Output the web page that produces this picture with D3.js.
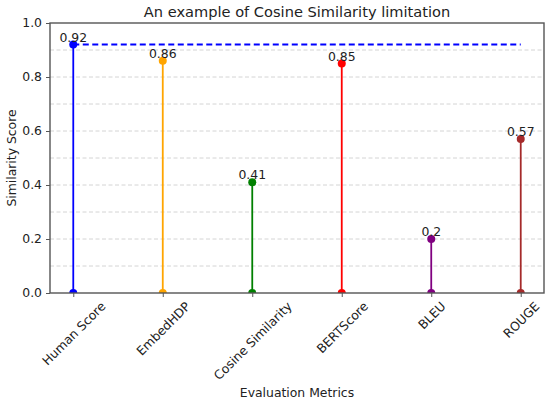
<!DOCTYPE html>
<html>
<head>
<meta charset="utf-8">
<script src="https://cdn.jsdelivr.net/npm/d3@7"></script>
<style>
  body { margin: 0; background: #fff; }
  text { font-family: "DejaVu Sans", sans-serif; fill: #222; }
</style>
</head>
<body>
<script>
const width = 550;
const height = 403;

// Chart data.
const metrics = ['Human Score', 'EmbedHDP', 'Cosine Similarity', 'BERTScore', 'BLEU', 'ROUGE'];
const scores = [0.92, 0.86, 0.41, 0.85, 0.2, 0.57];
const scoreLabels = ['0.92', '0.86', '0.41', '0.85', '0.2', '0.57'];
const colors = ['blue', 'orange', 'green', 'red', 'purple', 'brown'];
const yTicks = [0, 0.2, 0.4, 0.6, 0.8, 1.0];
const gridTicks = [0.1, 0.2, 0.3, 0.4, 0.5, 0.6, 0.7, 0.8, 0.9];
const humanRef = 0.92;

const fontSize = 12.4;
let margin = { top: 23, right: 6, bottom: 110, left: 50 };

let svg = d3
  .select('body')
  .append('svg')
  .attr('width', width)
  .attr('height', height);

let xScale = d3
  .scaleLinear()
  .domain([-0.26, metrics.length - 1 + 0.26])
  .range([margin.left, width - margin.right]);

let yScale = d3
  .scaleLinear()
  .domain([0, 1])
  .range([height - margin.bottom, margin.top]);

svg.append('defs')
  .append('clipPath')
  .attr('id', 'plot')
  .append('rect')
  .attr('x', xScale.range()[0])
  .attr('y', yScale.range()[1])
  .attr('width', xScale.range()[1] - xScale.range()[0])
  .attr('height', yScale.range()[0] - yScale.range()[1]);

// Grid lines.
svg.append('g')
  .selectAll('line')
  .data(gridTicks)
  .join('line')
  .attr('x1', xScale.range()[0])
  .attr('x2', xScale.range()[1])
  .attr('y1', (d) => yScale(d))
  .attr('y2', (d) => yScale(d))
  .attr('stroke', '#d4d4d4')
  .attr('stroke-width', 1)
  .attr('stroke-dasharray', '4,2.5');

let plot = svg.append('g').attr('clip-path', 'url(#plot)');

// Stems.
plot.selectAll('line.stem')
  .data(scores)
  .join('line')
  .attr('class', 'stem')
  .attr('x1', (d, i) => xScale(i))
  .attr('x2', (d, i) => xScale(i))
  .attr('y1', yScale(0))
  .attr('y2', (d) => yScale(d))
  .attr('stroke', (d, i) => colors[i])
  .attr('stroke-width', 1.8);

// Human score reference line.
plot.append('line')
  .attr('x1', xScale(0))
  .attr('x2', xScale(metrics.length - 1))
  .attr('y1', yScale(humanRef))
  .attr('y2', yScale(humanRef))
  .attr('stroke', 'blue')
  .attr('stroke-width', 2)
  .attr('stroke-dasharray', '6,3.5');

// Markers top and bottom.
plot.selectAll('circle.top')
  .data(scores)
  .join('circle')
  .attr('class', 'top')
  .attr('cx', (d, i) => xScale(i))
  .attr('cy', (d) => yScale(d))
  .attr('r', 4)
  .attr('fill', (d, i) => colors[i]);

plot.selectAll('circle.base')
  .data(scores)
  .join('circle')
  .attr('class', 'base')
  .attr('cx', (d, i) => xScale(i))
  .attr('cy', yScale(0))
  .attr('r', 4)
  .attr('fill', (d, i) => colors[i]);

// Value labels.
svg.append('g')
  .selectAll('text')
  .data(scores)
  .join('text')
  .attr('x', (d, i) => xScale(i))
  .attr('y', (d) => yScale(d) - 3)
  .attr('text-anchor', 'middle')
  .attr('font-size', fontSize)
  .text((d, i) => scoreLabels[i]);

// Axes.
let leftAxis = d3.axisLeft(yScale)
  .tickValues(yTicks)
  .tickFormat(d3.format('.1f'))
  .tickSize(4)
  .tickPadding(4);

let bottomAxis = d3.axisBottom(xScale)
  .tickValues(d3.range(metrics.length))
  .tickFormat((d) => metrics[d])
  .tickSize(4)
  .tickPadding(4);

let leftContainer = svg.append('g')
  .attr('transform', `translate(${margin.left}, 0)`)
  .call(leftAxis);

let bottomContainer = svg.append('g')
  .attr('transform', `translate(0, ${height - margin.bottom})`)
  .call(bottomAxis);

[leftContainer, bottomContainer].forEach((g) => {
  g.select('.domain').remove();
  g.selectAll('.tick line').attr('stroke', '#555').attr('stroke-width', 1);
  g.selectAll('.tick text').attr('font-size', fontSize).attr('fill', '#222');
});

// Rotated labels centred on the tick, like matplotlib rotation=45.
bottomContainer.selectAll('.tick text')
  .attr('text-anchor', 'middle')
  .attr('dy', null)
  .attr('y', 0)
  .attr('dominant-baseline', 'central')
  .attr('transform', function () {
    let w = this.getComputedTextLength();
    let h = fontSize * 0.9;
    let off = (w + h) / (2 * Math.SQRT2);
    return `translate(0, ${7 + off}) rotate(-45)`;
  });

// Frame.
svg.append('rect')
  .attr('x', xScale.range()[0])
  .attr('y', yScale.range()[1])
  .attr('width', xScale.range()[1] - xScale.range()[0])
  .attr('height', yScale.range()[0] - yScale.range()[1])
  .attr('fill', 'none')
  .attr('stroke', '#555')
  .attr('stroke-width', 1.4);

// Titles.
svg.append('text')
  .attr('x', (xScale.range()[0] + xScale.range()[1]) / 2)
  .attr('y', 16.5)
  .attr('text-anchor', 'middle')
  .attr('font-size', 14.6)
  .text('An example of Cosine Similarity limitation');

svg.append('text')
  .attr('x', (xScale.range()[0] + xScale.range()[1]) / 2)
  .attr('y', 397)
  .attr('text-anchor', 'middle')
  .attr('font-size', fontSize)
  .text('Evaluation Metrics');

svg.append('text')
  .attr('transform', `translate(16, ${(yScale.range()[0] + yScale.range()[1]) / 2}) rotate(-90)`)
  .attr('text-anchor', 'middle')
  .attr('font-size', fontSize)
  .text('Similarity Score');
</script>
</body>
</html>
